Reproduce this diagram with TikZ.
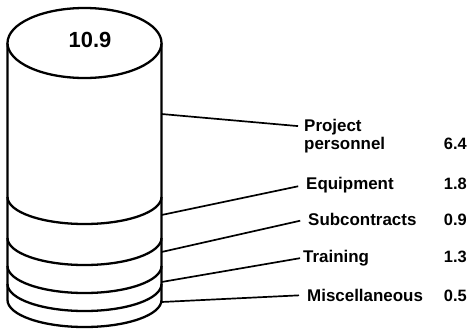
\documentclass[tikz,border=0pt]{standalone}
\usepackage{fontspec}
\setmainfont{Liberation Sans}
\begin{document}
\begin{tikzpicture}[x=1bp,y=-1bp,
  cyl/.style={line width=2.3pt,black},
  lead/.style={line width=1.7pt,black,shorten >=8bp},
  lbl/.style={font=\bfseries\fontsize{17}{18}\selectfont,inner sep=0pt,anchor=base west},
  val/.style={font=\bfseries\fontsize{16.5}{17}\selectfont,inner sep=0pt,anchor=base east}]
\useasboundingbox (0,0) rectangle (471,331);
% cylinder body
\draw[cyl,fill=white] (7.5,43) -- (7.5,300) arc[start angle=180,end angle=0,x radius=77,y radius=27] -- (161.5,43);
\foreach \c in {197,238,266,284}{
  \draw[cyl] (7.5,\c) arc[start angle=180,end angle=0,x radius=77,y radius=27];
}
\draw[cyl,fill=white] (84.5,43) ellipse[x radius=77,y radius=35];
\node[font=\bfseries\fontsize{22}{22}\selectfont,inner sep=0pt] (tot) at (90,40) {10.9};
% anchors on cylinder side
\coordinate (s1) at (161.5,114);
\coordinate (s2) at (161.5,215);
\coordinate (s3) at (161.5,252);
\coordinate (s4) at (161.5,282);
\coordinate (s5) at (161.5,302);
% labels
\node[lbl] (l1a) at (304,131) {Project};
\node[lbl] (l1b) at (304,149) {personnel};
\node[val] (v1) at (467,149) {6.4};
\node[lbl] (l2) at (306,189) {Equipment};
\node[val] (v2) at (467,189) {1.8};
\node[lbl] (l3) at (308,225) {Subcontracts};
\node[val] (v3) at (467,225) {0.9};
\node[lbl] (l4) at (303,262) {Training};
\node[val] (v4) at (467,262) {1.3};
\node[lbl] (l5) at (307,301) {Miscellaneous};
\node[val] (v5) at (467,301) {0.5};
% leaders
\draw[lead,shorten >=6bp] (s1) -- (l1a.west);
\draw[lead] (s2) -- (l2.west);
\draw[lead] (s3) -- (l3.west);
\draw[lead,shorten >=3bp] (s4) -- (l4.west);
\draw[lead] (s5) -- (l5.west);
\end{tikzpicture}
\end{document}
